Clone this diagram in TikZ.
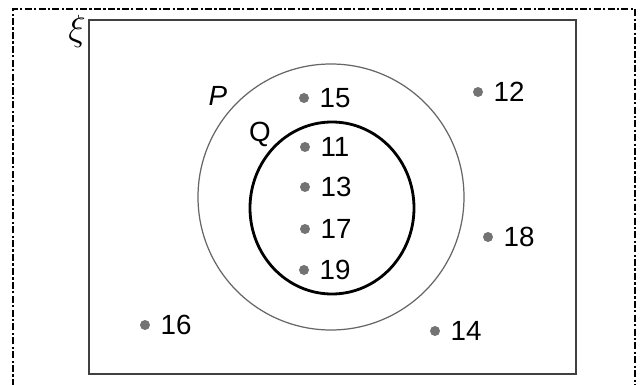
\documentclass[tikz,border=0pt]{standalone}
\usepackage{fontspec}
\setsansfont{Liberation Sans}
\usetikzlibrary{positioning}
\tikzset{
    elem/.style={circle, fill=black!55, draw=none, minimum size=0.2cm, inner sep=0pt},
    num/.style={font=\sffamily\fontsize{15.8}{18}\selectfont, inner sep=1pt, anchor=west},
    setname/.style={font=\sffamily\fontsize{15.8}{18}\selectfont, inner sep=1pt}
}

\begin{document}
\begin{tikzpicture}[x=0.02cm, y=-0.02cm]
    \useasboundingbox (0,0) rectangle (640,385);

    % outer frame (dash-dot, open at the bottom)
    \draw[line width=1.6pt, dash pattern=on 4pt off 1.3pt on 1.3pt off 1.3pt]
        (13,386) -- (13,9) -- (635,9) -- (635,386);

    % universal set
    \draw[line width=1.1pt, black!75] (89,20) rectangle (576,374);
    \node[font=\fontsize{20}{22}\selectfont] (xi) at (77,31) {$\xi$};

    % sets P and Q
    \draw[line width=0.7pt, black!60] (331,197) circle (133);
    \draw[line width=1.6pt] (332,208) ellipse (82 and 86);
    \node[setname, font=\sffamily\itshape\fontsize{15.8}{18}\selectfont] (P) at (218,96) {P};
    \node[setname] (Q) at (260,134) {Q};

    % elements
    \node[elem] (e15) at (304,98) {};
    \node[elem] (e11) at (305,147) {};
    \node[elem] (e13) at (305,187) {};
    \node[elem] (e17) at (305,229) {};
    \node[elem] (e19) at (304,270) {};
    \node[elem] (e12) at (478,92) {};
    \node[elem] (e18) at (488,237) {};
    \node[elem] (e16) at (145,325) {};
    \node[elem] (e14) at (435,331) {};

    \foreach \n in {15,11,13,17,19,12,18,16,14}
        \node[num, right=0.27cm of e\n.center] (t\n) {\n};

\end{tikzpicture}
\end{document}
